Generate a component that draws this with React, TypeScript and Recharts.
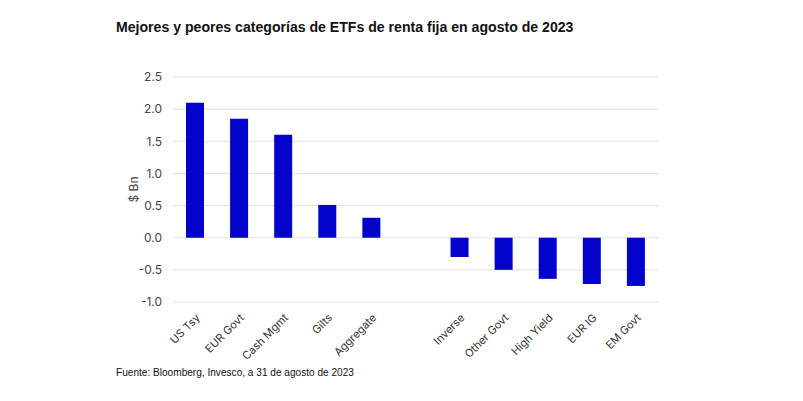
import { Bar, BarChart, CartesianGrid, XAxis, YAxis, Label } from "recharts";

const categories = ["US Tsy", "EUR Govt", "Cash Mgmt", "Gilts", "Aggregate", "", "Inverse", "Other Govt", "High Yield", "EUR IG", "EM Govt"];
const flows = [2.1, 1.85, 1.6, 0.51, 0.31, null, -0.3, -0.5, -0.64, -0.72, -0.75];
const yTicks = [-1, -0.5, 0, 0.5, 1, 1.5, 2, 2.5];

const data = categories.map((name, i) => ({ name, value: flows[i] }));

function AngledTick({ x, y, payload }: any) {
  return (
    <g transform={`translate(${x},${y})`}>
      <text x={0} y={0} dx={-2} dy={10} textAnchor="end" transform="rotate(-45)" fontSize={11} fill="#333" fontFamily="Inter, sans-serif">
        {payload.value}
      </text>
    </g>
  );
}

export default function App() {
  return (
    <div style={{ position: "absolute", left: 0, top: 0, width: 803, height: 401, background: "#fff" }}>
      <div style={{ position: "absolute", left: 116, top: 18, fontFamily: "'Liberation Sans', Arial, sans-serif", fontWeight: 700, fontSize: 14.1, lineHeight: "18px", color: "#111" }}>
        Mejores y peores categorías de ETFs de renta fija en agosto de 2023
      </div>
      <BarChart width={803} height={401} data={data} margin={{ top: 77, right: 145, left: 123, bottom: 69 }}>
        <CartesianGrid vertical={false} stroke="#e3e3e3" />
        <XAxis dataKey="name" height={30} axisLine={false} tickLine={false} interval={0} tick={<AngledTick />} />
        <YAxis
          width={50}
          domain={[-1, 2.5]}
          ticks={yTicks}
          axisLine={false}
          tickLine={false}
          tickSize={0}
          tickMargin={11}
          tickFormatter={(v: number) => v.toFixed(1)}
          tick={{ fontSize: 12, fill: "#444", fontFamily: "Inter, sans-serif" }}
        >
          <Label
            content={({ viewBox }: any) => {
              const cx = viewBox.x + 10;
              const cy = viewBox.y + viewBox.height / 2;
              return (
                <text x={cx} y={cy} transform={`rotate(-90, ${cx}, ${cy})`} textAnchor="middle" dominantBaseline="central" fontSize={12} fill="#444" fontFamily="Inter, sans-serif">
                  $ Bn
                </text>
              );
            }}
          />
        </YAxis>
        <Bar dataKey="value" fill="#0303cc" barSize={18} isAnimationActive={false} />
      </BarChart>
      <div style={{ position: "absolute", left: 116, top: 366, fontFamily: "'Liberation Sans', Arial, sans-serif", fontSize: 10.1, lineHeight: "13px", color: "#111" }}>
        Fuente: Bloomberg, Invesco, a 31 de agosto de 2023
      </div>
    </div>
  );
}
